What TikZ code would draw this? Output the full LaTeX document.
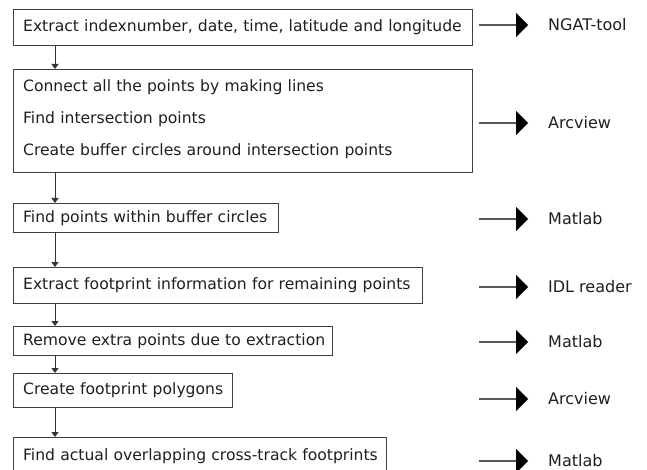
\documentclass[tikz,border=0pt]{standalone}
\usepackage{fontspec}
\setmainfont{DejaVu Sans}
\usetikzlibrary{arrows.meta}
\begin{document}
\begin{tikzpicture}[x=1pt,y=-1pt,
  box/.style 2 args={draw=black!75, line width=0.9pt, anchor=north west,
    inner xsep=10pt, inner ysep=0pt, align=left, text width=#1, minimum height=#2,
    font=\fontsize{15.6}{18}\selectfont, text=black!88},
  tool/.style={anchor=west, inner xsep=20pt, inner ysep=0pt,
    font=\fontsize{16}{19}\selectfont, text=black!88},
  flow/.style={draw=black!80, line width=0.9pt, -{Triangle[length=5pt,width=7pt]}},
  toolarrow/.style={draw=black!65, line width=1.2pt, -{Triangle[length=12pt,width=24pt,color=black]}}
]
\useasboundingbox (0,0) rectangle (647,470);
\fill[white] (0,0) rectangle (647,470);
\begin{scope}
\clip (0,0) rectangle (647,470);
% boxes
\node[box={439.3pt}{36pt}] (b1) at (12.7,9) {\mbox{Extract indexnumber, date, time, latitude and longitude}};
\node[box={439.3pt}{103pt}, font=\fontsize{15.6}{32}\selectfont] (b2) at (12.7,69) {\mbox{Connect all the points by making lines}\\\mbox{Find intersection points}\\\mbox{Create buffer circles around intersection points}\rule[-6pt]{0pt}{6pt}};
\node[box={245.3pt}{29pt}] (b3) at (12.7,203) {\mbox{Find points within buffer circles}};
\node[box={389.3pt}{36pt}] (b4) at (12.7,267) {\mbox{Extract footprint information for remaining points}};
\node[box={299.3pt}{29pt}] (b5) at (12.7,326) {\mbox{Remove extra points due to extraction}};
\node[box={199.3pt}{34pt}] (b6) at (12.7,373) {\mbox{Create footprint polygons}};
\node[box={353.3pt}{38pt}] (b7) at (12.7,437) {\mbox{Find actual overlapping cross-track footprints}};
\end{scope}
% flow arrows
\coordinate (fx) at (55,0);
\draw[flow] (b1.south -| fx) -- (b2.north -| fx);
\draw[flow] (b2.south -| fx) -- (b3.north -| fx);
\draw[flow] (b3.south -| fx) -- (b4.north -| fx);
\draw[flow] (b4.south -| fx) -- (b5.north -| fx);
\draw[flow] (b5.south -| fx) -- (b6.north -| fx);
\draw[flow] (b6.south -| fx) -- (b7.north -| fx);
% tools
\node[tool] (t1) at (528,25) {NGAT-tool};
\node[tool] (t2) at (528,123) {Arcview};
\node[tool] (t3) at (528,219) {Matlab};
\node[tool] (t4) at (528,287) {IDL reader};
\node[tool] (t5) at (528,342) {Matlab};
\node[tool] (t6) at (528,399) {Arcview};
\node[tool] (t7) at (528,461) {Matlab};
\coordinate (s1) at (479,25);
\coordinate (s2) at (479,123);
\coordinate (s3) at (479,219);
\coordinate (s4) at (479,287);
\coordinate (s5) at (479,342);
\coordinate (s6) at (479,399);
\coordinate (s7) at (479,461);
\foreach \i in {1,...,7} {\draw[toolarrow] (s\i) -- (t\i.west);}
\end{tikzpicture}
\end{document}
